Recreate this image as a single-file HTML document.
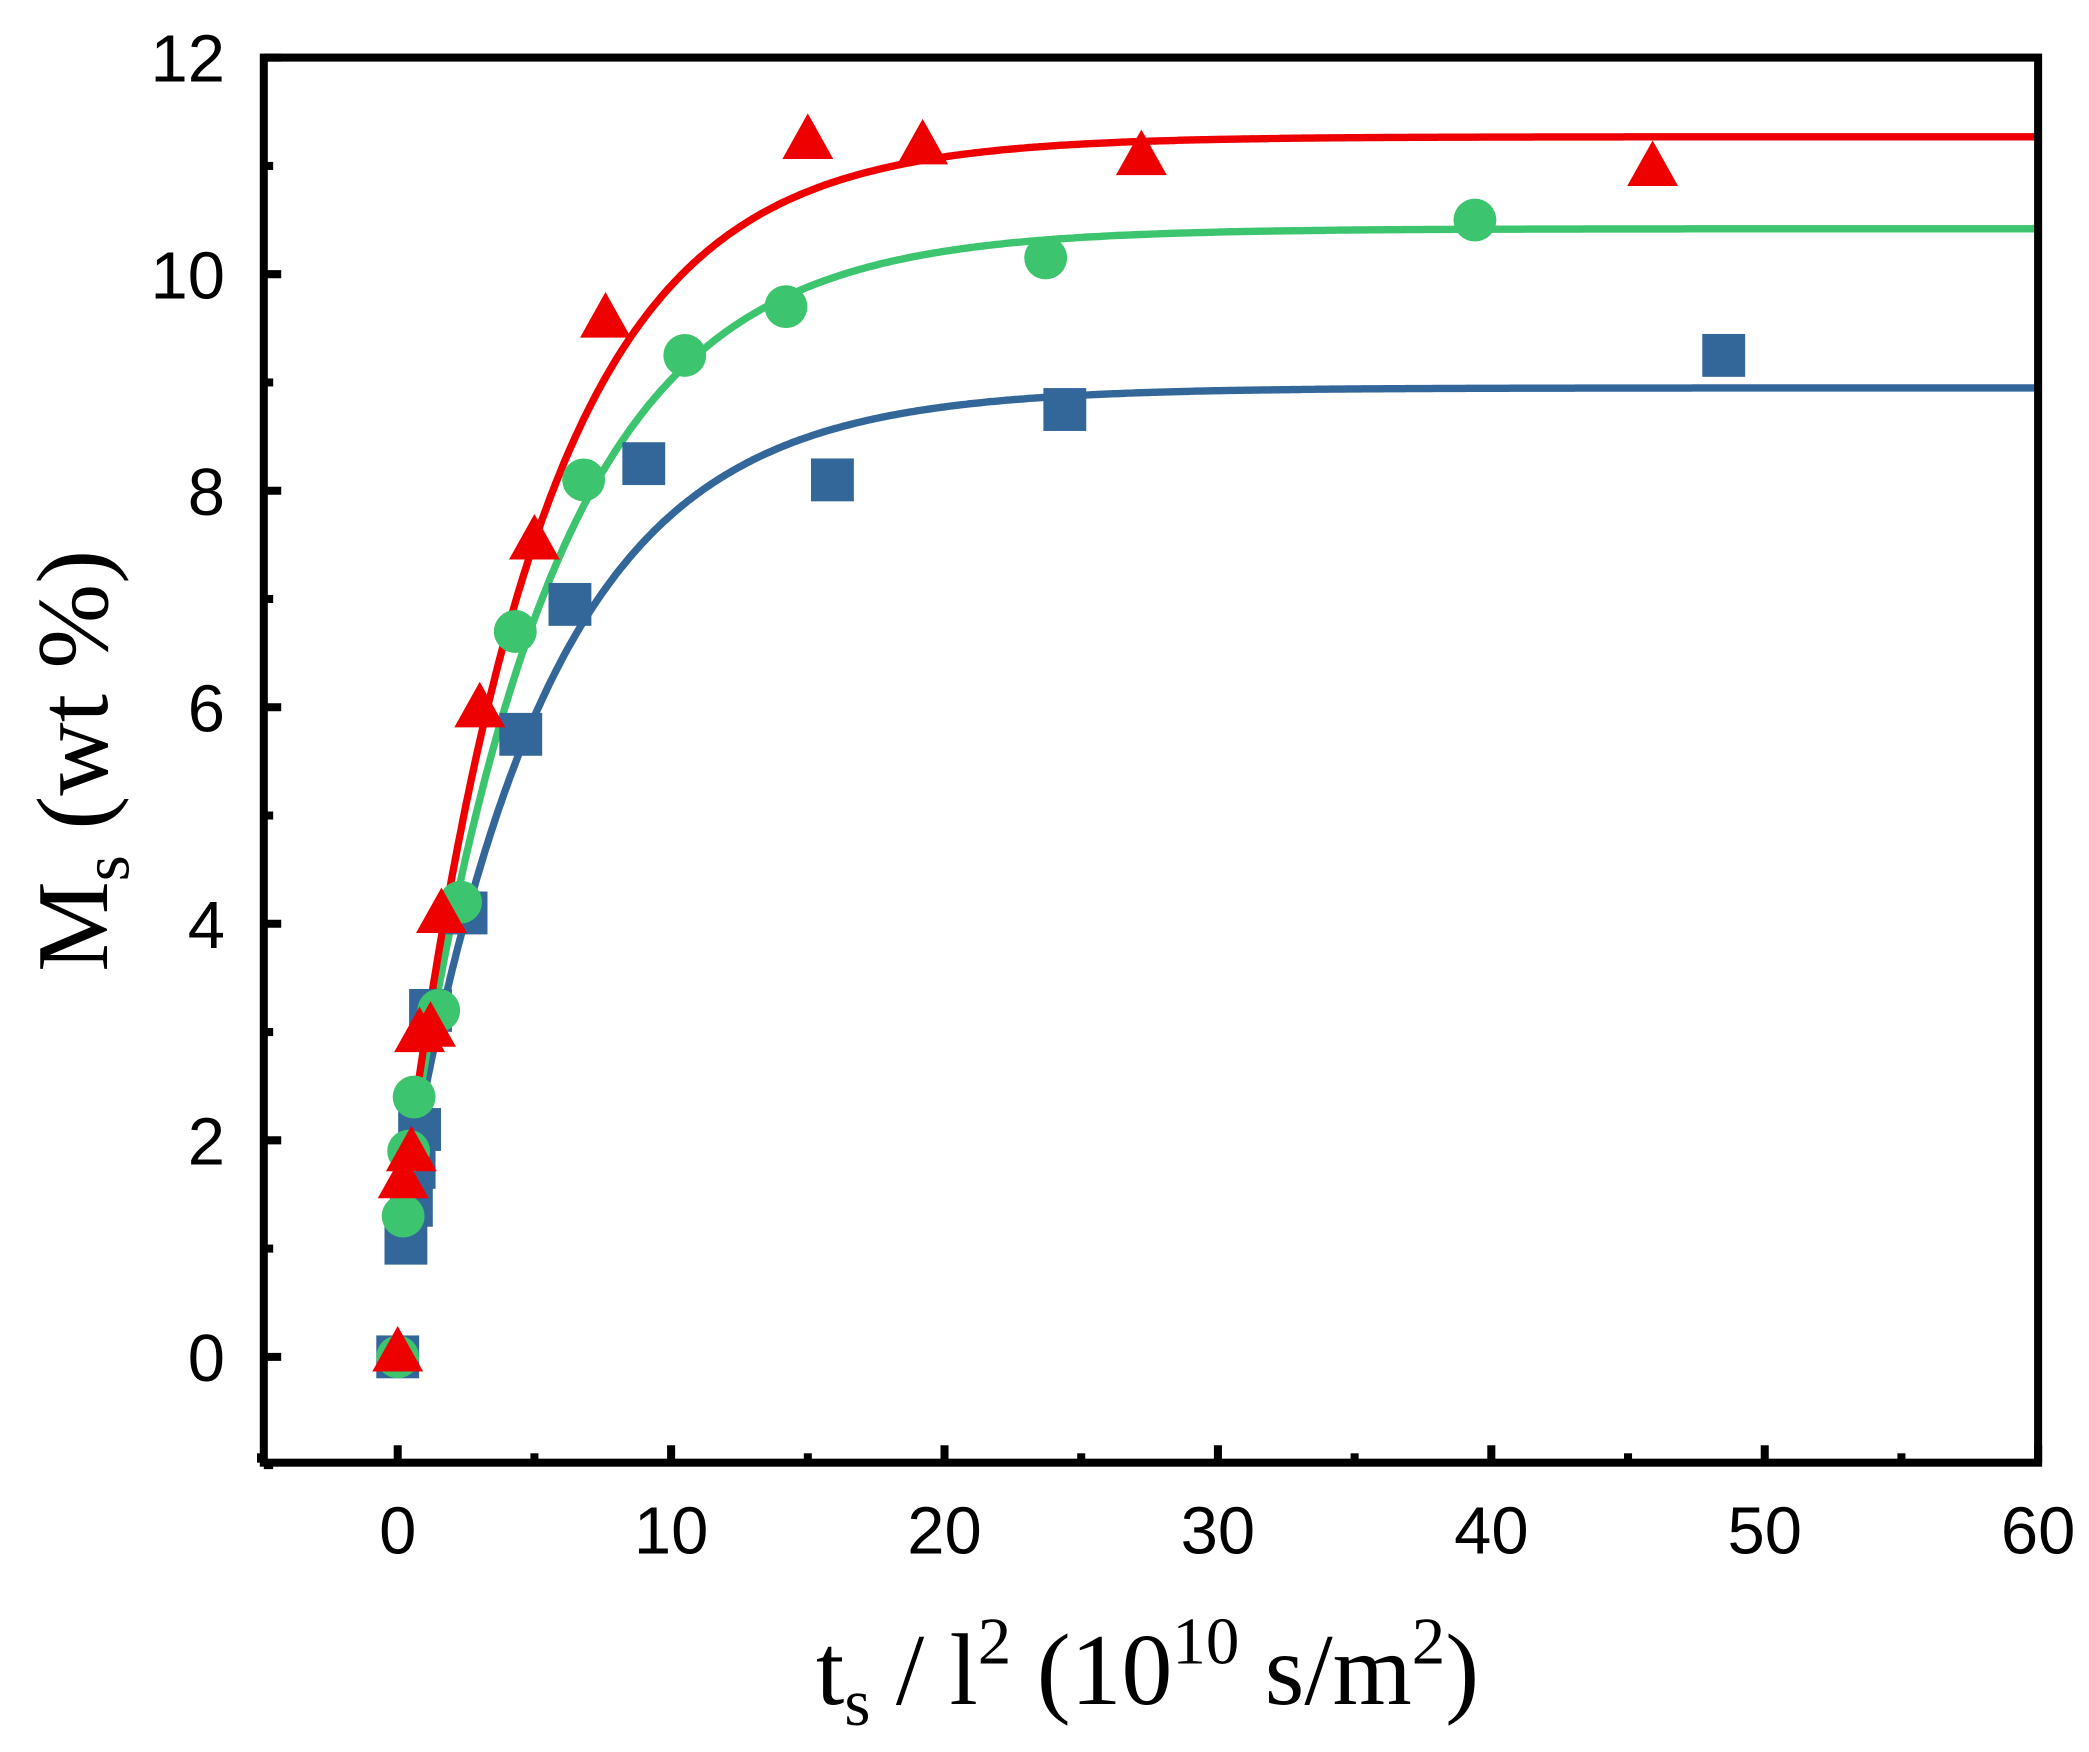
<!DOCTYPE html>
<html><head><meta charset="utf-8"><style>html,body{margin:0;padding:0;background:#fff}svg{display:block}</style></head>
<body>
<svg id="s" width="2089" height="1752" viewBox="0 0 1560 1308" preserveAspectRatio="none" xmlns="http://www.w3.org/2000/svg">
<g id="curves" fill="none" stroke-width="5.5"></g>
<g id="marks"></g>
<rect x="197" y="43" width="1325" height="1049" fill="none" stroke="#000" stroke-width="6"/>
<g id="ticks" stroke="#000" stroke-width="6"></g>
<g id="lbl" font-family="Liberation Sans, sans-serif" font-size="50" fill="#000"></g>
<text x="857" y="1272" text-anchor="middle" font-family="Liberation Serif, serif" font-size="76">t<tspan font-size="50" dy="16">s</tspan><tspan dy="-16"> / l</tspan><tspan font-size="50" dy="-30">2</tspan><tspan dy="30">  (10</tspan><tspan font-size="50" dy="-30">10</tspan><tspan dy="30"> s/m</tspan><tspan font-size="50" dy="-30">2</tspan><tspan dy="30">)</tspan></text>
<text transform="translate(80,568) rotate(-90)" text-anchor="middle" font-family="Liberation Serif, serif" font-size="76">M<tspan font-size="50" dy="16">s</tspan><tspan dy="-16"> (wt %)</tspan></text>
</svg>
<script>
var X=function(v){return 297+v*20.417},Y=function(v){return 1013-v*80.83};
var ns="http://www.w3.org/2000/svg";
function el(p,t,a){var e=document.createElementNS(ns,t);for(var k in a)e.setAttribute(k,a[k]);document.getElementById(p).appendChild(e);return e;}
for(var v=-5;v<=60;v+=5){var maj=v%10==0,L=maj?13:7;el('ticks','line',{x1:X(v),x2:X(v),y1:1092,y2:1092-L});
 if(maj)el('lbl','text',{x:X(v),y:1160,'text-anchor':'middle'}).textContent=v;}
for(var v=-1;v<=12;v++){var maj=v%2==0,L=maj?13:7;el('ticks','line',{x1:197,x2:197+L,y1:Y(v),y2:Y(v)});
 if(maj)el('lbl','text',{x:168,y:Y(v)+18,'text-anchor':'end'}).textContent=v;}
var cs=[[8.95,0.19,'#336699'],[10.42,0.19,'#3cc46e'],[11.27,0.2,'#ee0000']];
cs.forEach(function(c){var d='';for(var i=0;i<=600;i++){var x=i*0.1;var y=c[0]-(c[0]-1.1)*Math.exp(-c[1]*x);d+=(i?'L':'M')+X(x).toFixed(1)+' '+Y(y).toFixed(1);}el('curves','path',{d:d,stroke:c[2]});});
var B=[[0,0],[0.3,1.05],[0.5,1.4],[0.6,1.75],[0.8,2.1],[1.2,3.2],[2.5,4.1],[4.5,5.75],[6.3,6.95],[9,8.25],[15.9,8.1],[24.4,8.75],[48.5,9.25]];
var G=[[0,0],[0.2,1.3],[0.4,1.9],[0.6,2.4],[1.5,3.2],[2.3,4.2],[4.3,6.7],[6.8,8.1],[10.5,9.25],[14.2,9.7],[23.7,10.15],[39.4,10.5]];
var R=[[0,0.05],[0.2,1.65],[0.5,1.9],[0.8,3.0],[1.2,3.05],[1.6,4.1],[3,6.0],[5,7.55],[7.6,9.6],[15,11.25],[19.2,11.2],[27.2,11.1],[45.9,11.0]];
B.forEach(function(p){el('marks','rect',{x:X(p[0])-16,y:Y(p[1])-16,width:32,height:32,fill:'#336699'});});
G.forEach(function(p){el('marks','circle',{cx:X(p[0]),cy:Y(p[1]),r:16,fill:'#3cc46e'});});
R.forEach(function(p){var x=X(p[0]),y=Y(p[1]);el('marks','polygon',{points:(x-19)+','+(y+15)+' '+(x+19)+','+(y+15)+' '+x+','+(y-19),fill:'#ee0000'});});
</script>
</body></html>
